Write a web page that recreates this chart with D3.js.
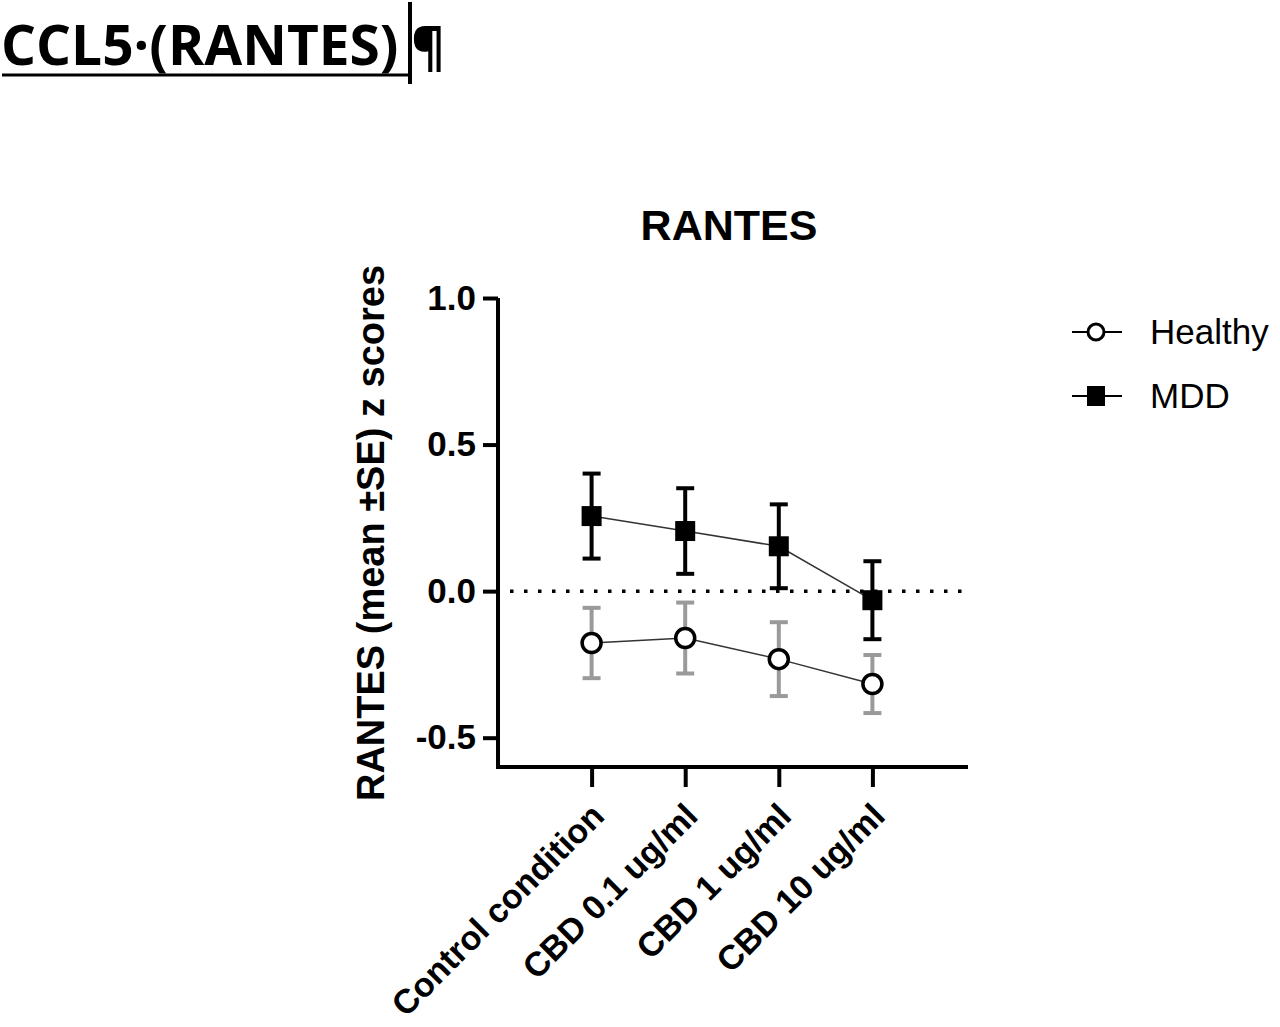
<!DOCTYPE html>
<html>
<head>
<meta charset="utf-8">
<script src="https://cdn.jsdelivr.net/npm/d3@7"></script>
<style>
  body { margin: 0; background: #fff; }
  svg { display: block; }
</style>
</head>
<body>
<svg id="chart" width="1280" height="1027"></svg>
<script>
// Chart data
const conditions = ["Control condition", "CBD 0.1 ug/ml", "CBD 1 ug/ml", "CBD 10 ug/ml"];
const healthyMean = [-0.177, -0.160, -0.232, -0.317];
const healthySE = [0.120, 0.121, 0.126, 0.099];
const mddMean = [0.256, 0.205, 0.153, -0.031];
const mddSE = [0.145, 0.146, 0.143, 0.133];
const yTicks = [-0.5, 0.0, 0.5, 1.0];

const svg = d3.select("#chart");

// Document heading above the figure
svg.append("text")
    .attr("x", 1)
    .attr("y", 65)
    .attr("font-family", "Open Sans, sans-serif")
    .attr("font-weight", "bold")
    .attr("font-size", 55)
    .attr("fill", "#000")
    .text("CCL5·(RANTES)");

svg.append("line")
    .attr("x1", 2).attr("x2", 408)
    .attr("y1", 75).attr("y2", 75)
    .attr("stroke", "#000").attr("stroke-width", 3);

svg.append("line")
    .attr("x1", 410).attr("x2", 410)
    .attr("y1", 2).attr("y2", 84)
    .attr("stroke", "#000").attr("stroke-width", 4);

svg.append("text")
    .attr("x", 411)
    .attr("y", 66)
    .attr("font-family", "Open Sans, sans-serif")
    .attr("font-weight", "bold")
    .attr("font-size", 52)
    .text("¶");

// Plot area
const x0 = 498, x1 = 966, yTop = 298, yBottom = 767;

const x = d3.scalePoint()
    .domain(conditions)
    .range([x0, x1])
    .padding(1);

const y = d3.scaleLinear()
    .domain([-0.6, 1.0])
    .range([yBottom, yTop]);

const font = "Arial, Liberation Sans, sans-serif";

// Title
svg.append("text")
    .attr("x", 729)
    .attr("y", 240)
    .attr("text-anchor", "middle")
    .attr("font-family", font)
    .attr("font-weight", "bold")
    .attr("font-size", 43)
    .text("RANTES");

// Y axis
const yAxis = svg.append("g")
    .attr("transform", `translate(${x0},0)`)
    .call(d3.axisLeft(y).tickValues(yTicks).tickFormat(d => d.toFixed(1)).tickSize(15).tickPadding(7));

yAxis.select(".domain")
    .attr("d", `M0,${yTop}V${yBottom}`)
    .attr("stroke-width", 4);
yAxis.selectAll(".tick line").attr("stroke-width", 4);
yAxis.selectAll(".tick text")
    .attr("font-family", font)
    .attr("font-weight", "bold")
    .attr("font-size", 35)
    .attr("fill", "#000");

// X axis
const xAxis = svg.append("g")
    .attr("transform", `translate(0,${yBottom})`)
    .call(d3.axisBottom(x).tickSize(20));

xAxis.select(".domain")
    .attr("d", `M${x0 - 2},0H${x1 + 2}`)
    .attr("stroke-width", 4);
xAxis.selectAll(".tick line").attr("stroke-width", 4);
xAxis.selectAll(".tick text")
    .attr("font-family", font)
    .attr("font-weight", "bold")
    .attr("font-size", 34)
    .attr("fill", "#000")
    .attr("text-anchor", "end")
    .attr("x", 0)
    .attr("y", 0)
    .attr("dy", 0)
    .attr("transform", "translate(14,51) rotate(-45)");

// Y axis label
svg.append("text")
    .attr("transform", `translate(384,533) rotate(-90)`)
    .attr("text-anchor", "middle")
    .attr("font-family", font)
    .attr("font-weight", "bold")
    .attr("font-size", 38)
    .text("RANTES (mean ±SE) z scores");

// Dotted zero line
svg.append("line")
    .attr("x1", 510).attr("x2", 962)
    .attr("y1", y(0)).attr("y2", y(0))
    .attr("stroke", "#000")
    .attr("stroke-width", 3.5)
    .attr("stroke-dasharray", "3.5,10.5");

const line = d3.line()
    .x((d, i) => x(conditions[i]))
    .y(d => y(d));

function drawErrorBars(means, ses, color) {
    const g = svg.append("g");
    means.forEach((m, i) => {
        const cx = x(conditions[i]);
        const top = y(m + ses[i]), bot = y(m - ses[i]);
        g.append("line").attr("x1", cx).attr("x2", cx).attr("y1", top).attr("y2", bot)
            .attr("stroke", color).attr("stroke-width", 4);
        [top, bot].forEach(v => {
            g.append("line").attr("x1", cx - 9).attr("x2", cx + 9).attr("y1", v).attr("y2", v)
                .attr("stroke", color).attr("stroke-width", 4);
        });
    });
}

// Healthy series
drawErrorBars(healthyMean, healthySE, "#9a9a9a");
svg.append("path")
    .datum(healthyMean)
    .attr("d", line)
    .attr("fill", "none")
    .attr("stroke", "#333")
    .attr("stroke-width", 1.5);
svg.append("g").selectAll("circle")
    .data(healthyMean)
    .join("circle")
    .attr("cx", (d, i) => x(conditions[i]))
    .attr("cy", d => y(d))
    .attr("r", 9.5)
    .attr("fill", "#fff")
    .attr("stroke", "#000")
    .attr("stroke-width", 3.5);

// MDD series
drawErrorBars(mddMean, mddSE, "#000");
svg.append("path")
    .datum(mddMean)
    .attr("d", line)
    .attr("fill", "none")
    .attr("stroke", "#333")
    .attr("stroke-width", 1.5);
svg.append("g").selectAll("rect")
    .data(mddMean)
    .join("rect")
    .attr("x", (d, i) => x(conditions[i]) - 10)
    .attr("y", d => y(d) - 10)
    .attr("width", 20)
    .attr("height", 20)
    .attr("fill", "#000");

// Legend
const legend = svg.append("g").attr("transform", "translate(1072,0)");
const items = [{ name: "Healthy", y: 332, shape: "circle" }, { name: "MDD", y: 396, shape: "square" }];
items.forEach(it => {
    legend.append("line").attr("x1", 0).attr("x2", 50).attr("y1", it.y).attr("y2", it.y)
        .attr("stroke", "#000").attr("stroke-width", 2);
    if (it.shape === "circle") {
        legend.append("circle").attr("cx", 24).attr("cy", it.y).attr("r", 8)
            .attr("fill", "#fff").attr("stroke", "#000").attr("stroke-width", 3);
    } else {
        legend.append("rect").attr("x", 15).attr("y", it.y - 10).attr("width", 18).attr("height", 20)
            .attr("fill", "#000");
    }
    legend.append("text")
        .attr("x", 78).attr("y", it.y + 12)
        .attr("font-family", font)
        .attr("font-size", 35)
        .text(it.name);
});
</script>
</body>
</html>
